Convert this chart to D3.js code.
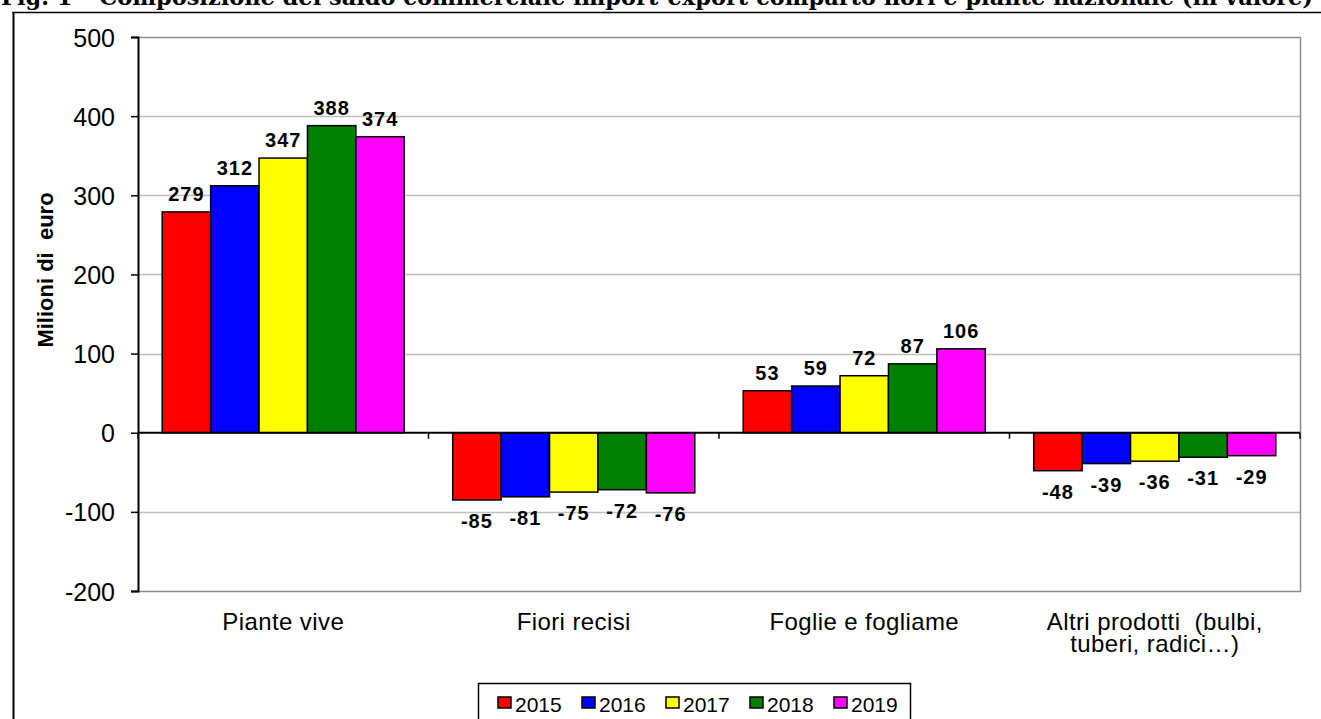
<!DOCTYPE html>
<html>
<head>
<meta charset="utf-8">
<script src="https://cdn.jsdelivr.net/npm/d3@7"></script>
<style>
  body { margin: 0; background: #fff; }
  svg { display: block; }
  text { font-family: Arial, "Liberation Sans", sans-serif; }
</style>
</head>
<body>
<div id="chart"></div>
<script>
// data
const categories = ["Piante vive", "Fiori recisi", "Foglie e fogliame", "Altri prodotti  (bulbi,|tuberi, radici\u2026)"];
const years = ["2015", "2016", "2017", "2018", "2019"];
const v2015 = [279, -85, 53, -48];
const v2016 = [312, -81, 59, -39];
const v2017 = [347, -75, 72, -36];
const v2018 = [388, -72, 87, -31];
const v2019 = [374, -76, 106, -29];
const yTicks = [-200, -100, 0, 100, 200, 300, 400, 500];
const colors = ["#ff0000", "#0000ff", "#ffff00", "#008000", "#ff00ff"];
const titleText = "Fig. 1 \u2013 Composizione del saldo commerciale import-export comparto fiori e piante nazionale (in valore)";

const series = [v2015, v2016, v2017, v2018, v2019];

let width = 1321;
let height = 719;
const svg = d3.select("#chart").append("svg")
    .attr("width", width)
    .attr("height", height);

const plot = {left: 138, right: 1300, top: 37, bottom: 591};

let x0 = d3.scaleBand()
    .domain(categories)
    .range([plot.left, plot.right]);
let x1 = d3.scaleBand()
    .domain(years)
    .range([0, x0.bandwidth()])
    .paddingOuter(0.5);
let y = d3.scaleLinear()
    .domain([-200, 500])
    .range([plot.bottom, plot.top]);

// title, cut off by the page top
svg.append("text")
    .attr("x", 1)
    .attr("y", 5)
    .attr("textLength", 1312)
    .attr("lengthAdjust", "spacingAndGlyphs")
    .style("font-family", "'DejaVu Serif', 'Liberation Serif', serif")
    .style("font-weight", "bold")
    .style("font-size", "22px")
    .text(titleText);

// outer frame (top and left only)
svg.append("line").attr("x1", 12).attr("x2", width).attr("y1", 12.5).attr("y2", 12.5)
    .attr("stroke", "#000").attr("stroke-width", 1.5);
svg.append("line").attr("x1", 13.5).attr("x2", 13.5).attr("y1", 12).attr("y2", height)
    .attr("stroke", "#000").attr("stroke-width", 2);

// gridlines
svg.selectAll(".grid")
    .data(yTicks.filter(d => d !== 0 && d !== 500 && d !== -200))
    .join("line")
    .attr("class", "grid")
    .attr("x1", plot.left).attr("x2", plot.right)
    .attr("y1", d => Math.round(y(d)) + 0.5).attr("y2", d => Math.round(y(d)) + 0.5)
    .attr("stroke", "#c0c0c0").attr("stroke-width", 1.5);

// plot border (gray)
svg.append("path")
    .attr("d", `M${plot.left},${plot.top + 0.5}H${plot.right + 0.5}V${plot.bottom + 0.5}H${plot.left}`)
    .attr("fill", "none").attr("stroke", "#8c8c8c").attr("stroke-width", 1.5);

// bars
const groups = svg.selectAll(".cat")
    .data(categories)
    .join("g")
    .attr("class", "cat")
    .attr("transform", d => `translate(${x0(d)},0)`);

groups.each(function(cat, ci) {
    const g = d3.select(this);
    const vals = years.map((yr, si) => ({year: yr, value: series[si][ci], color: colors[si]}));
    g.selectAll("rect")
        .data(vals)
        .join("rect")
        .attr("x", d => x1(d.year))
        .attr("width", x1.bandwidth())
        .attr("y", d => y(Math.max(0, d.value)))
        .attr("height", d => Math.abs(y(d.value) - y(0)))
        .attr("fill", d => d.color)
        .attr("stroke", "#000")
        .attr("stroke-width", 1.5);
    g.selectAll(".val")
        .data(vals)
        .join("text")
        .attr("class", "val")
        .attr("x", d => x1(d.year) + x1.bandwidth() / 2)
        .attr("y", d => d.value >= 0 ? y(d.value) - 11 : y(d.value) + 28)
        .attr("text-anchor", "middle")
        .style("font-weight", "bold")
        .style("font-size", "20px")
        .style("letter-spacing", "1px")
        .text(d => d.value);
});

// y axis
const yAxis = svg.append("g")
    .attr("transform", `translate(${plot.left},0)`)
    .call(d3.axisLeft(y).tickValues(yTicks).tickFormat(d => String(d)).tickSize(7).tickPadding(16));
yAxis.select(".domain").attr("stroke", "#000").attr("stroke-width", 2);
yAxis.selectAll(".tick line").attr("stroke", "#000").attr("stroke-width", 1.5);
yAxis.selectAll(".tick text")
    .style("font-family", "Arial, 'Liberation Sans', sans-serif")
    .style("font-size", "25px")
    .attr("dy", "0.36em")
    .attr("fill", "#000");

// zero axis with category ticks
svg.append("line")
    .attr("x1", plot.left).attr("x2", plot.right)
    .attr("y1", y(0)).attr("y2", y(0))
    .attr("stroke", "#000").attr("stroke-width", 2);
svg.selectAll(".xtick")
    .data(categories.map(c => x0(c)).concat([plot.right]))
    .join("line")
    .attr("class", "xtick")
    .attr("x1", d => d).attr("x2", d => d)
    .attr("y1", y(0)).attr("y2", y(0) + 6)
    .attr("stroke", "#000").attr("stroke-width", 1.5);

// category labels
svg.selectAll(".catlabel")
    .data(categories)
    .join("text")
    .attr("class", "catlabel")
    .attr("x", d => x0(d) + x0.bandwidth() / 2)
    .attr("y", 630)
    .attr("text-anchor", "middle")
    .style("font-size", "24px")
    .style("letter-spacing", "0.4px")
    .style("white-space", "pre")
    .each(function(d) {
        const lines = d.split("|");
        d3.select(this).selectAll("tspan")
            .data(lines)
            .join("tspan")
            .attr("x", x0(d) + x0.bandwidth() / 2)
            .attr("dy", (l, i) => i === 0 ? 0 : 22)
            .text(l => l);
    });

// y axis title
svg.append("text")
    .attr("transform", "translate(53,270) rotate(-90)")
    .attr("text-anchor", "middle")
    .style("font-weight", "bold")
    .style("font-size", "22px")
    .style("white-space", "pre")
    .text("Milioni di  euro");

// legend
const legend = svg.append("g");
legend.append("rect")
    .attr("x", 478.5).attr("y", 683.5)
    .attr("width", 432).attr("height", 50)
    .attr("fill", "#fff").attr("stroke", "#000").attr("stroke-width", 1.5);
const items = legend.selectAll(".item")
    .data(years)
    .join("g")
    .attr("class", "item")
    .attr("transform", (d, i) => `translate(${498 + i * 84},697)`);
items.append("rect")
    .attr("width", 13).attr("height", 11)
    .attr("fill", (d, i) => colors[i])
    .attr("stroke", "#000").attr("stroke-width", 1.5);
items.append("text")
    .attr("x", 17).attr("y", 14.5)
    .style("font-size", "21px")
    .text(d => d);
</script>
</body>
</html>
